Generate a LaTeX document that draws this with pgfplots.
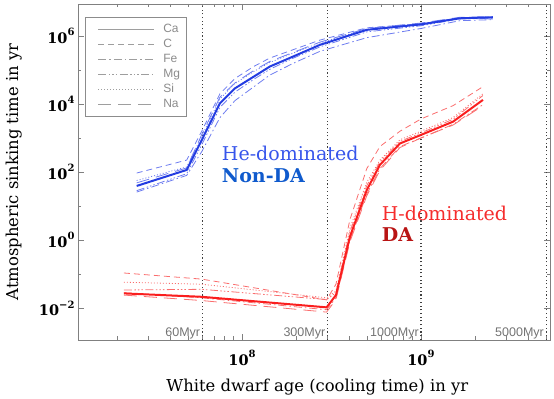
\documentclass[border=0pt]{standalone}
\usepackage{fontspec}
\setmainfont{DejaVu Serif}
\newfontfamily\sansf{Liberation Sans}
\usepackage{pgfplots}
\pgfplotsset{compat=1.18}
\definecolor{bmain}{RGB}{35,60,225}
\definecolor{bthin}{RGB}{110,125,240}
\definecolor{rmain}{RGB}{250,30,30}
\definecolor{rthin}{RGB}{250,110,110}
\definecolor{hetext}{RGB}{55,85,235}
\definecolor{nondatext}{RGB}{15,90,205}
\definecolor{htext}{RGB}{245,45,45}
\definecolor{datext}{RGB}{185,20,20}
\tikzset{
 sC/.style={dash pattern=on 6pt off 4pt},
 sFe/.style={dash pattern=on 8pt off 3pt on 1.5pt off 3pt},
 sMg/.style={dash pattern=on 8pt off 2.5pt on 1.5pt off 2pt on 1.5pt off 2pt on 1.5pt off 2.5pt},
 sSi/.style={dash pattern=on 1pt off 2pt},
 sNa/.style={dash pattern=on 13pt off 7pt},
 gline/.style={black!75, line width=1.1pt, dash pattern=on 1.1pt off 2.6pt},
 glab/.style={anchor=base east, inner sep=0pt, font=\sansf\fontsize{12.5}{14}\selectfont, text=black!55},
}
\newcommand{\tp}[1]{\textbf{10}\raisebox{0.5em}{\fontsize{10}{10}\selectfont\bfseries #1}}
\begin{document}
\begin{tikzpicture}
\begin{axis}[name=ax, xmode=log, ymode=log, scale only axis, width=472pt, height=336pt,
 xmin=1.213e7, xmax=5.26e9, ymin=1.148e-3, ymax=8.71e6,
 axis line style={black!50, line width=0.7pt},
 tick style={black!50, line width=0.6pt},
 major tick length=6pt, minor tick length=3.5pt,
 xtick={1e8,1e9}, xticklabels={\tp{8},\tp{9}},
 minor xtick={2e7,3e7,4e7,5e7,6e7,7e7,8e7,9e7,2e8,3e8,4e8,5e8,6e8,7e8,8e8,9e8,2e9,3e9,4e9,5e9},
 ytick={1e-2,1,1e2,1e4,1e6}, yticklabels={\tp{\char"2212 2},\tp{0},\tp{2},\tp{4},\tp{6}},
 minor ytick={1e-1,1e1,1e3,1e5},
 ticklabel style={font=\fontsize{14.5}{16}\selectfont},
 xticklabel style={yshift=-7pt},
 xlabel={White dwarf age (cooling time) in yr},
 ylabel={Atmospheric sinking time in yr},
 label style={font=\fontsize{16.4}{19}\selectfont},
 xlabel style={at={(axis description cs:0.507,-0.152)}, anchor=base},
 ylabel style={at={(axis description cs:-0.127,0.5)}, anchor=base},
 legend style={at={(0.0148,0.9613)}, anchor=north west, draw=black!45, line width=0.8pt, fill=white, text=black!45,
   font=\sansf\fontsize{12}{14}\selectfont, inner xsep=4.5pt, inner ysep=4.5pt, row sep=0pt, column sep=7pt,
   cells={anchor=west}, nodes={inner sep=1.5pt, text height=9pt, text depth=3pt}},
 legend image code/.code={\path (0pt,0pt); \draw[line width=1pt,#1] (8pt,0pt) -- (64pt,0pt);},
 legend cell align=left,
 clip=true,
]
% grid lines
\draw[gline] (axis cs:6e7,1.148e-3) -- (axis cs:6e7,8.71e6);
\draw[gline] (axis cs:3e8,1.148e-3) -- (axis cs:3e8,8.71e6);
\draw[gline] (axis cs:1e9,1.148e-3) -- (axis cs:1e9,8.71e6);
\draw[gline] (axis cs:5e9,1.148e-3) -- (axis cs:5e9,8.71e6);
\node[glab] at ([xshift=-2pt,yshift=3.5pt]axis cs:6e7,1.148e-3) {60Myr};
\node[glab] at ([xshift=-2pt,yshift=3.5pt]axis cs:3e8,1.148e-3) {300Myr};
\node[glab] at ([xshift=-2pt,yshift=3.5pt]axis cs:1e9,1.148e-3) {1000Myr};
\node[glab] at ([xshift=-2pt,yshift=3.5pt]axis cs:5e9,1.148e-3) {5000Myr};

% legend images
\addlegendimage{black!38, solid}\addlegendentry{Ca}
\addlegendimage{black!38, sC}\addlegendentry{C}
\addlegendimage{black!38, sFe}\addlegendentry{Fe}
\addlegendimage{black!38, sMg}\addlegendentry{Mg}
\addlegendimage{black!38, sSi}\addlegendentry{Si}
\addlegendimage{black!38, sNa}\addlegendentry{Na}

% ---- He-dominated (blue), thin species
\addplot[bthin, line width=0.8pt, sC, forget plot] coordinates {
(2.58e7,93.3)(4.91e7,223.9)(5.96e7,1585)(7.53e7,1.995e4)(9.14e7,5.623e4)(1.16e8,1.259e5)(1.43e8,2.239e5)(1.94e8,3.981e5)(2.73e8,7.586e5)(4.98e8,1.738e6)(1e9,2.291e6)(1.65e9,3.311e6)(2.52e9,3.162e6)};
\addplot[bthin, line width=0.8pt, sFe, forget plot] coordinates {
(2.58e7,25.7)(4.91e7,79.4)(5.96e7,398)(7.53e7,3981)(9.14e7,1.259e4)(1.16e8,3.162e4)(1.43e8,7.079e4)(1.94e8,1.585e5)(2.73e8,3.548e5)(4.98e8,8.913e5)(1e9,1.660e6)(1.65e9,2.818e6)(2.52e9,3.020e6)};
\addplot[bthin, line width=0.8pt, sMg, forget plot] coordinates {
(2.58e7,28.2)(4.91e7,89.1)(5.96e7,631)(7.53e7,7943)(9.14e7,2.239e4)(1.16e8,5.248e4)(1.43e8,1.047e5)(1.94e8,2.239e5)(2.73e8,4.786e5)(4.98e8,1.318e6)(1e9,1.995e6)(1.65e9,3.162e6)(2.52e9,3.311e6)};
\addplot[bthin, line width=0.8pt, sSi, forget plot] coordinates {
(2.58e7,56.2)(4.91e7,141.3)(5.96e7,1122)(7.53e7,1.413e4)(9.14e7,3.981e4)(1.16e8,8.913e4)(1.43e8,1.660e5)(1.94e8,3.162e5)(2.73e8,6.310e5)(4.98e8,1.585e6)(1e9,2.291e6)(1.65e9,3.388e6)(2.52e9,3.631e6)};
\addplot[bthin, line width=0.8pt, sNa, forget plot] coordinates {
(2.58e7,47.9)(4.91e7,131.8)(5.96e7,1259)(7.53e7,1.585e4)(9.14e7,4.169e4)(1.16e8,9.550e4)(1.43e8,1.778e5)(1.94e8,3.311e5)(2.73e8,6.607e5)(4.98e8,1.660e6)(1e9,2.399e6)(1.65e9,3.548e6)(2.52e9,3.715e6)};

% ---- H-dominated (red), thin species
\addplot[rthin, line width=0.8pt, sC, forget plot] coordinates {
(2.19e7,0.1072)(5.96e7,0.0708)(2.97e8,0.01738)(3.35e8,0.0501)(4.01e8,3.98)(4.98e8,125.9)(5.90e8,562.3)(7.64e8,1585)(1e9,3631)(1.51e9,8913)(2.22e9,3.236e4)};
\addplot[rthin, line width=0.8pt, sSi, forget plot] coordinates {
(2.19e7,0.0575)(5.96e7,0.0501)(2.97e8,0.01995)(3.35e8,0.0316)(4.01e8,2.239)(4.98e8,50.1)(5.90e8,223.9)(7.64e8,891)(1e9,1585)(1.51e9,3981)(2.22e9,1.995e4)};
\addplot[rthin, line width=0.8pt, sMg, forget plot] coordinates {
(2.19e7,0.0339)(5.96e7,0.0355)(2.97e8,0.01778)(3.35e8,0.0282)(4.01e8,1.778)(4.98e8,39.8)(5.90e8,199.5)(7.64e8,794)(1e9,1413)(1.51e9,3548)(2.22e9,1.778e4)};
\addplot[rthin, line width=0.8pt, sFe, forget plot] coordinates {
(2.19e7,0.0282)(5.96e7,0.01995)(2.97e8,0.00891)(3.35e8,0.01995)(4.01e8,1.0)(4.98e8,22.4)(5.90e8,125.9)(7.64e8,562)(1e9,1000)(1.51e9,2512)(2.22e9,9550)};
\addplot[rthin, line width=0.8pt, sNa, forget plot] coordinates {
(2.19e7,0.0240)(5.96e7,0.0166)(2.97e8,0.00759)(3.35e8,0.01778)(4.01e8,0.891)(4.98e8,19.95)(5.90e8,112.2)(7.64e8,524.8)(1e9,1000)(1.51e9,2399)(2.22e9,8913)};

% ---- Ca main lines
\addplot[bmain, line width=2pt, solid, forget plot] coordinates {
(2.58e7,38.9)(4.91e7,115)(5.96e7,871)(7.53e7,1.047e4)(9.14e7,2.884e4)(1.16e8,6.31e4)(1.43e8,1.259e5)(1.94e8,2.512e5)(2.73e8,5.495e5)(4.98e8,1.514e6)(1e9,2.188e6)(1.65e9,3.311e6)(2.52e9,3.548e6)};
\addplot[rmain, line width=2pt, solid, forget plot] coordinates {
(2.19e7,0.02692)(5.96e7,0.02138)(2.97e8,0.01047)(3.35e8,0.02399)(4.01e8,1.259)(4.98e8,29.5)(5.90e8,162.2)(7.64e8,691.8)(1e9,1230)(1.51e9,3020)(2.22e9,1.318e4)};

% annotations
\node[anchor=base west, inner sep=0pt, font=\fontsize{19}{22}\selectfont, text=hetext] at (axis cs:7.71e7,215) {He-dominated};
\node[anchor=base west, inner sep=0pt, font=\fontsize{19}{22}\selectfont\bfseries, text=nondatext] at (axis cs:7.71e7,48.4) {Non-DA};
\node[anchor=base west, inner sep=0pt, font=\fontsize{19}{22}\selectfont, text=htext] at (axis cs:6.03e8,3.87) {H-dominated};
\node[anchor=base west, inner sep=0pt, font=\fontsize{19}{22}\selectfont\bfseries, text=datext] at (axis cs:6.03e8,0.891) {DA};
\end{axis}
\pgfresetboundingbox
\path[use as bounding box] ([xshift=-78pt,yshift=-59pt]ax.south west) rectangle ([xshift=4pt,yshift=4pt]ax.north east);
\end{tikzpicture}
\end{document}
